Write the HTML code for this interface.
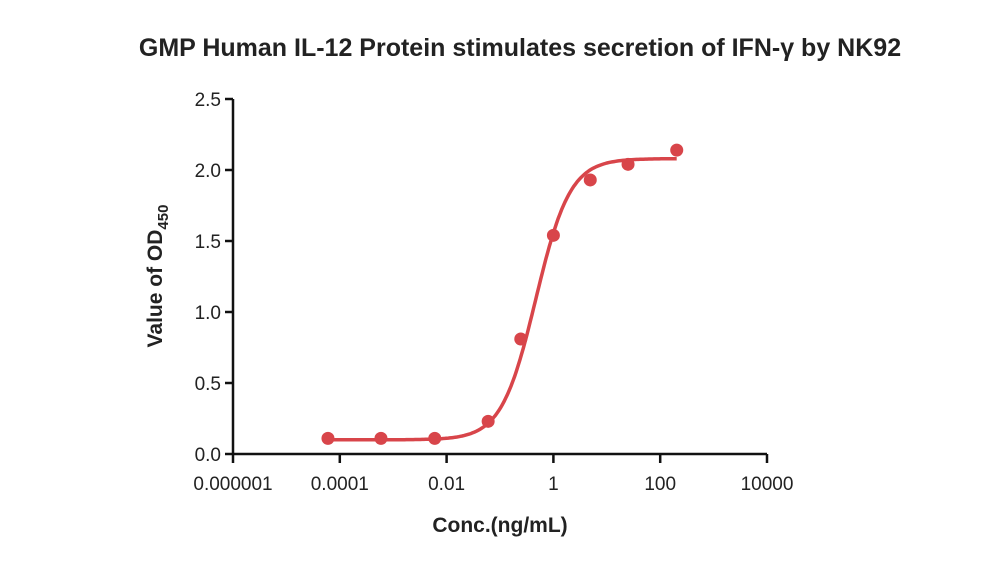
<!DOCTYPE html>
<html><head><meta charset="utf-8"><style>
body{margin:0;background:#fff;}
svg text{font-family:"Liberation Sans",sans-serif;fill:#222;}
</style></head><body>
<svg width="1000" height="564" viewBox="0 0 1000 564">
<text x="520" y="56" text-anchor="middle" font-size="25" font-weight="bold">GMP Human IL-12 Protein stimulates secretion of IFN-γ by NK92</text>
<g id="axes"></g>
<g id="plot"></g>
<text x="500" y="532" text-anchor="middle" font-size="21" font-weight="bold">Conc.(ng/mL)</text>
<text transform="translate(162,276) rotate(-90)" text-anchor="middle" font-size="21" font-weight="bold">Value of OD<tspan font-size="15" dy="6">450</tspan></text>
</svg>
<script>
const xs=[0.00006,0.00059,0.006,0.06,0.245,1,4.9,25,204];
const ys=[0.11,0.11,0.11,0.23,0.81,1.54,1.93,2.04,2.14];
const yTicks=[0,0.5,1.0,1.5,2.0,2.5];
const yTickLabels=["0.0","0.5","1.0","1.5","2.0","2.5"];
const xTicks=[1e-6,1e-4,1e-2,1,100,10000];
const xTickLabels=["0.000001","0.0001","0.01","1","100","10000"];
const fitBottom=0.10, fitTop=2.08, fitLogEC50=-0.33, fitHill=1.35;
const NS="http://www.w3.org/2000/svg";
const X0=233,X1=767,Y0=454,Y1=99;
const xs_=v=>X0+(Math.log10(v)+6)/10*(X1-X0);
const ys_=v=>Y0-v/2.5*(Y0-Y1);
function mk(t,a,p){const e=document.createElementNS(NS,t);for(const k in a)e.setAttribute(k,a[k]);p.appendChild(e);return e;}
const ax=document.getElementById('axes'),pl=document.getElementById('plot');
let e=mk('line',{x1:X0,y1:Y1,x2:X0,y2:Y0,stroke:'#111','stroke-width':2.5},ax);


e=mk('line',{x1:X0,y1:Y0,x2:X1,y2:Y0,stroke:'#111','stroke-width':2.5},ax);


yTicks.forEach((v,i)=>{const y=ys_(v);
 mk('line',{x1:X0-8,y1:y,x2:X0,y2:y,stroke:'#111','stroke-width':2.5},ax);
 const t=mk('text',{x:X0-12,y:y+7,'text-anchor':'end','font-size':19},ax);t.textContent=yTickLabels[i];
 
 });
xTicks.forEach((v,i)=>{const x=xs_(v);
 mk('line',{x1:x,y1:Y0,x2:x,y2:Y0+9,stroke:'#111','stroke-width':2.5},ax);
 const t=mk('text',{x:x,y:Y0+36,'text-anchor':'middle','font-size':19},ax);t.textContent=xTickLabels[i];
 
 });
const lo=Math.log10(xs[0]),hi=Math.log10(xs[xs.length-1]);let d='';
for(let i=0;i<=200;i++){const lx=lo+(hi-lo)*i/200;const v=fitBottom+(fitTop-fitBottom)/(1+Math.pow(10,(fitLogEC50-lx)*fitHill));
 d+=(i?'L':'M')+xs_(Math.pow(10,lx)).toFixed(1)+','+ys_(v).toFixed(1);}
e=mk('path',{d:d,fill:'none',stroke:'#d8454a','stroke-width':3.5},pl);


xs.forEach((v,i)=>{const c=mk('circle',{cx:xs_(v),cy:ys_(ys[i]),r:6.5,fill:'#d8454a'},pl);
 
 });
</script>
</body></html>
